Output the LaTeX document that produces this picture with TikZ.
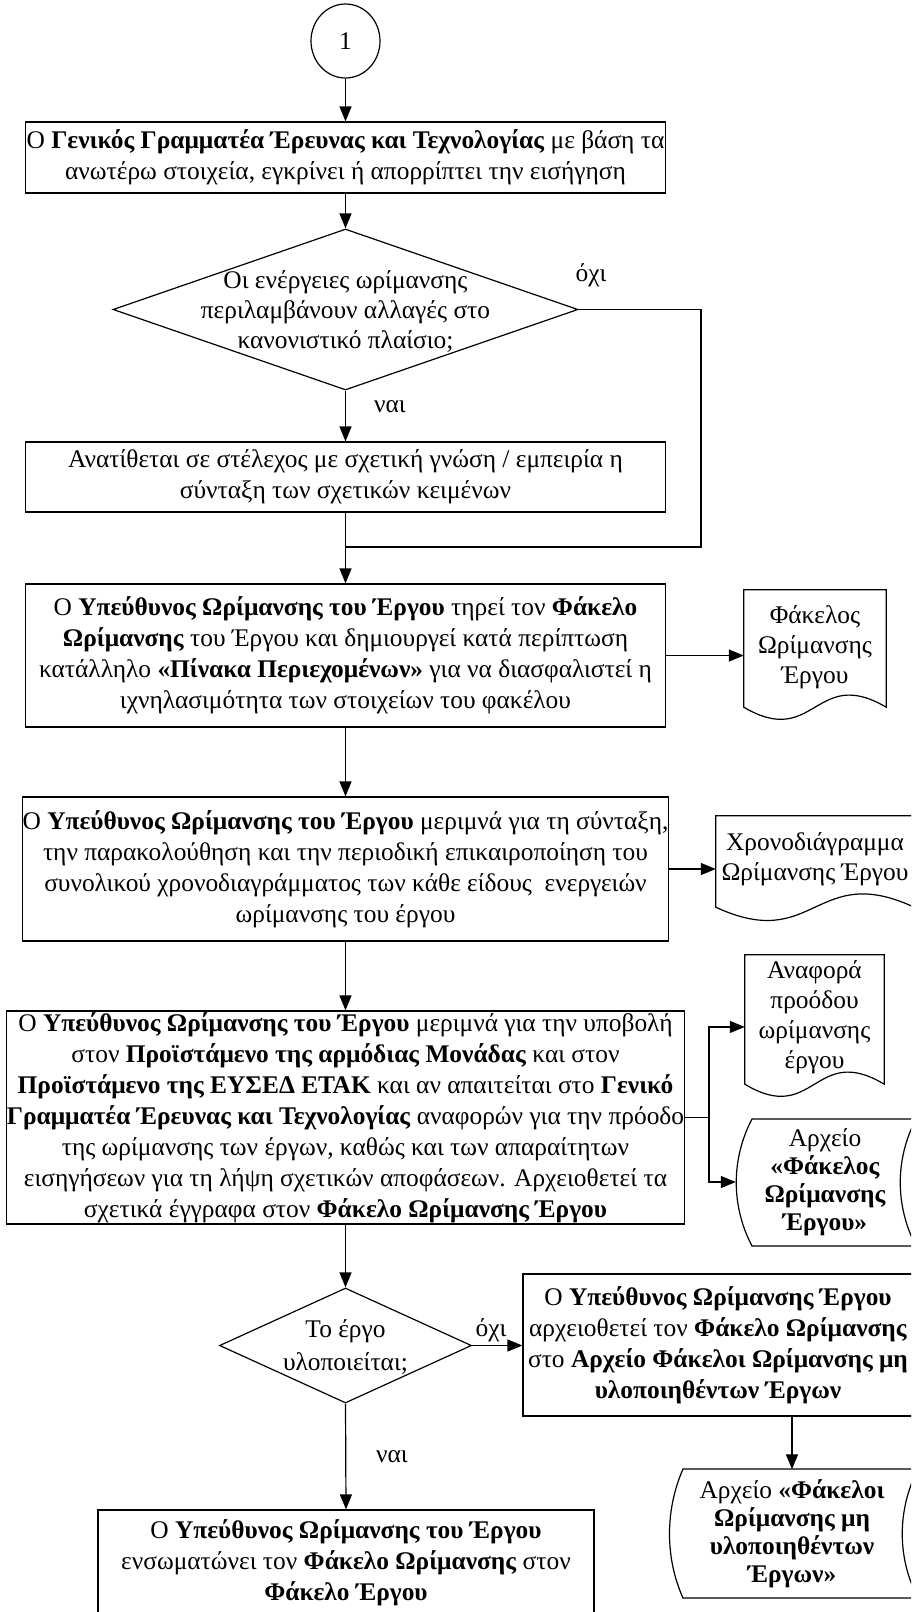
\documentclass[tikz,border=0pt]{standalone}
\usepackage{fontspec}
\setmainfont{Liberation Serif}
\usetikzlibrary{arrows.meta,shapes.geometric,calc}

\begin{document}
\begin{tikzpicture}[x=1pt,y=-1pt,
  every node/.style={font=\fontsize{25.4}{31}\selectfont},
  line/.style={line width=1.2pt},
  arr/.style={line, -{Triangle[length=15pt,width=12pt]}},
  procbox/.style={draw, line width=1.2pt, rectangle, align=center, inner sep=0pt},
  txt/.style={align=center, inner sep=0pt},
  doctxt/.style={txt, font=\fontsize{25.4}{30}\selectfont},
  storetxt/.style={txt, font=\fontsize{25.4}{28}\selectfont},
  decision/.style={draw, line width=1.2pt, diamond, inner sep=0pt},
  lbl/.style={inner sep=0pt},
]
% page
\fill[white] (0,0) rectangle (911,1612);
\clip (0,0) rectangle (911,1612);

% connector circle
\node[draw, line width=1.2pt, ellipse, minimum width=69, minimum height=74, inner sep=0pt] (c1) at (345.5,41) {1};

% step 1
\node[procbox, minimum width=640, minimum height=71] (b1) at (345.5,157.5)
  {Ο \textbf{Γενικός Γραμματέα Έρευνας και Τεχνολογίας} με βάση τα\\
   ανωτέρω στοιχεία, εγκρίνει ή απορρίπτει την εισήγηση};

% decision 1
\node[decision, minimum width=465, minimum height=161] (d1) at (345.5,309.5) {};
\node[txt, font=\fontsize{25.4}{30}\selectfont] (d1t) at (345.5,311) {Οι ενέργειες ωρίμανσης\\ περιλαμβάνουν αλλαγές στο\\ κανονιστικό πλαίσιο;};
\node[lbl] (no1) at (591,275) {όχι};
\node[lbl] (yes1) at (390,407) {ναι};

% step 2
\node[procbox, minimum width=640, minimum height=70] (b2) at (345.5,477)
  {Ανατίθεται σε στέλεχος με σχετική γνώση / εμπειρία η\\ σύνταξη των σχετικών κειμένων};

\coordinate (j1) at (345.5,547);
\coordinate (r1) at (701,547);

% step 3
\node[procbox, minimum width=640, minimum height=143] (b3) at (345.5,655.5)
  {Ο \textbf{Υπεύθυνος Ωρίμανσης του Έργου} τηρεί τον \textbf{Φάκελο}\\
   \textbf{Ωρίμανσης} του Έργου και δημιουργεί κατά περίπτωση\\
   κατάλληλο \textbf{«Πίνακα Περιεχομένων»} για να διασφαλιστεί η\\
   ιχνηλασιμότητα των στοιχείων του φακέλου};

% document 1
\node[doctxt, minimum width=142, minimum height=115] (doc1) at (815,647.5)
  {Φάκελος\\ Ωρίμανσης\\ Έργου};
\draw[line] (doc1.north west) -- (doc1.north east) -- ($(doc1.south east)+(0,-2pt)$)
  .. controls ($(doc1.south)+(0,40pt)$) and ($(doc1.south)+(0,-44pt)$) .. ($(doc1.south west)+(0,-2pt)$) -- cycle;

% step 4
\node[procbox, minimum width=640, minimum height=144] (b4) at (345.5,869)
  {Ο \textbf{Υπεύθυνος Ωρίμανσης του Έργου} μεριμνά για τη σύνταξη,\\
   την παρακολούθηση και την περιοδική επικαιροποίηση του\\
   συνολικού χρονοδιαγράμματος των κάθε είδους\ \ ενεργειών\\
   ωρίμανσης του έργου};

% document 2
\node[doctxt, minimum width=198, minimum height=87] (doc2) at (815,859.5)
  {Χρονοδιάγραμμα\\ Ωρίμανσης Έργου};
\draw[line] (doc2.north west) -- (doc2.north east) -- ($(doc2.south east)+(0,-4pt)$)
  .. controls ($(doc2.south)+(0,42pt)$) and ($(doc2.south)+(0,-50pt)$) .. ($(doc2.south west)+(0,-4pt)$) -- cycle;

% step 5
\node[procbox, minimum width=675, minimum height=213] (b5) at (345.5,1117.5)
  {Ο \textbf{Υπεύθυνος Ωρίμανσης του Έργου} μεριμνά για την υποβολή\\
   στον \textbf{Προϊστάμενο της αρμόδιας Μονάδας} και στον\\
   \textbf{Προϊστάμενο της ΕΥΣΕΔ ΕΤΑΚ} και αν απαιτείται στο \textbf{Γενικό}\\
   \textbf{Γραμματέα Έρευνας και Τεχνολογίας} αναφορών για την πρόοδο\\
   της ωρίμανσης των έργων, καθώς και των απαραίτητων\\
   εισηγήσεων για τη λήψη σχετικών αποφάσεων. Αρχειοθετεί τα\\
   σχετικά έγγραφα στον \textbf{Φάκελο Ωρίμανσης Έργου}};

\coordinate (br) at (709,1117.5);

% document 3
\node[doctxt, minimum width=139, minimum height=124] (doc3) at (814.5,1017)
  {Αναφορά\\ προόδου\\ ωρίμανσης\\ έργου};
\draw[line] (doc3.north west) -- (doc3.north east) -- ($(doc3.south east)+(0,-5pt)$)
  .. controls ($(doc3.south)+(0,37pt)$) and ($(doc3.south)+(0,-47pt)$) .. ($(doc3.south west)+(0,-5pt)$) -- cycle;
\coordinate (doc3in) at ($(doc3.north west)!0.58!(doc3.south west)$);

% stored data 1
\node[storetxt, minimum width=178, minimum height=128] (st1) at (825,1182)
  {Αρχείο\\ \textbf{«Φάκελος}\\ \textbf{Ωρίμανσης}\\ \textbf{Έργου»}};
\draw[line] (752,1119) -- (916,1119) .. controls (895,1159) and (895,1206) .. (916,1246)
  -- (752,1246) .. controls (731,1206) and (731,1159) .. (752,1119) -- cycle;

% decision 2
\node[decision, minimum width=252, minimum height=115] (d2) at (345.5,1345.5) {};
\node[txt, font=\fontsize{25.4}{33}\selectfont] (d2t) at (345.5,1347) {Το έργο\\ υλοποιείται;};
\node[lbl] (no2) at (491,1330) {όχι};
\node[lbl] (yes2) at (392,1457) {ναι};

% step 6
\node[procbox, minimum width=390, minimum height=142] (b6) at (718,1345)
  {Ο \textbf{Υπεύθυνος Ωρίμανσης Έργου}\\
   αρχειοθετεί τον \textbf{Φάκελο Ωρίμανσης}\\
   στο \textbf{Αρχείο Φάκελοι Ωρίμανσης μη}\\
   \textbf{υλοποιηθέντων Έργων}};

% stored data 2
\node[storetxt, minimum width=250, minimum height=129] (st2) at (792,1534)
  {Αρχείο \textbf{«Φάκελοι}\\ \textbf{Ωρίμανσης μη}\\ \textbf{υλοποιηθέντων}\\ \textbf{Έργων»}};
\draw[line] (683,1469) -- (918,1469) .. controls (897,1510) and (897,1558) .. (918,1598)
  -- (683,1598) .. controls (665,1558) and (665,1510) .. (683,1469) -- cycle;

% step 7
\node[procbox, minimum width=496, minimum height=106] (b7) at (346,1563)
  {Ο \textbf{Υπεύθυνος Ωρίμανσης του Έργου}\\
   ενσωματώνει τον \textbf{Φάκελο Ωρίμανσης} στον\\
   \textbf{Φάκελο Έργου}};

% connectors
\draw[arr] (c1.south) -- (b1.north);
\draw[arr] (b1.south) -- (d1.north);
\draw[arr] (d1.south) -- (b2.north);
\draw[line] (d1.east) -| (r1) -- (j1);
\draw[line] (b2.south) -- (j1);
\draw[arr] (j1) -- (b3.north);
\draw[arr] (b3.east) -- (b3.east -| doc1.west);
\draw[arr] (b3.south) -- (b4.north);
\draw[arr] (b4.east) -- (b4.east -| doc2.west);
\draw[arr] (b4.south) -- (b5.north);
\draw[line] (b5.east) -- (br);
\draw[arr] (br) |- (doc3in);
\draw[arr] (br) |- (st1.west);
\draw[arr] (b5.south) -- (d2.north);
\draw[arr] (d2.east) -- (d2.east -| b6.west);
\draw[arr] (d2.south) -- (b7.north);
\draw[arr] (b6.south -| st2.north) -- (st2.north);
\end{tikzpicture}
\end{document}
